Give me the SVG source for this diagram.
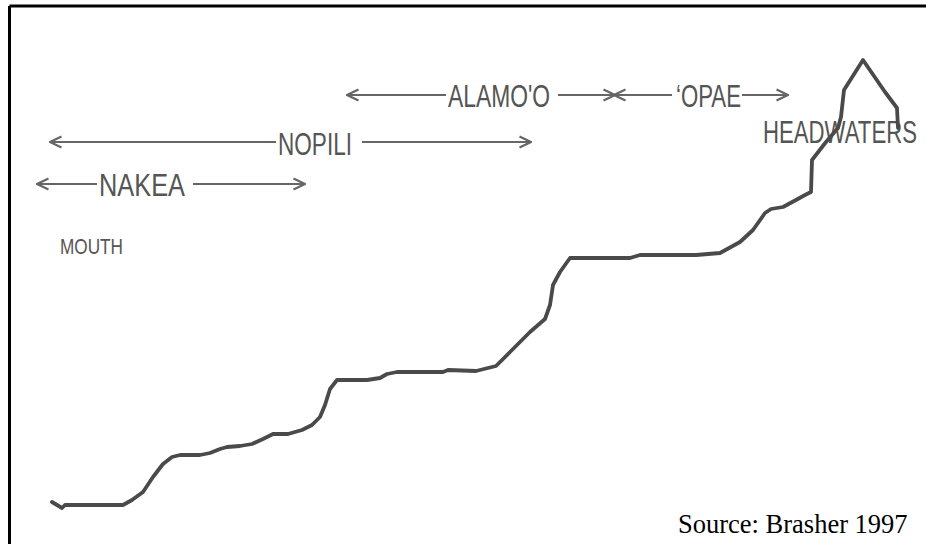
<svg xmlns="http://www.w3.org/2000/svg" width="926" height="544" viewBox="0 0 926 544">
<style>
.lbl{font-family:"Liberation Sans",Arial,sans-serif;fill:#555}
.arr{stroke:#666;stroke-width:2.2;fill:none}
.src{font-family:"Liberation Serif","Times New Roman",serif;fill:#000;font-size:26.5px}
</style>
<defs>
<marker id="ah" viewBox="0 0 14 14" refX="13" refY="7" markerWidth="14" markerHeight="14" markerUnits="userSpaceOnUse" orient="auto-start-reverse">
<path d="M1.5,1.5 L13,7 L1.5,12.5" fill="none" stroke="#666" stroke-width="2.2"/>
</marker>
</defs>
<rect width="926" height="544" fill="#fff"/>
<g id="frame" stroke="#000" stroke-width="3" fill="none">
<line x1="9.5" y1="6" x2="926" y2="6"/>
<line x1="9.5" y1="6" x2="9.5" y2="544"/>
</g>
<g id="connectors">
<line class="arr" x1="347" y1="95" x2="446" y2="95" marker-start="url(#ah)"/>
<line class="arr" x1="558" y1="95" x2="615" y2="95" marker-end="url(#ah)"/>
<line class="arr" x1="614" y1="95" x2="672" y2="95" marker-start="url(#ah)"/>
<line class="arr" x1="742" y1="95" x2="788" y2="95" marker-end="url(#ah)"/>
<line class="arr" x1="50" y1="142" x2="276" y2="142" marker-start="url(#ah)"/>
<line class="arr" x1="362" y1="142" x2="531" y2="142" marker-end="url(#ah)"/>
<line class="arr" x1="37" y1="184" x2="97" y2="184" marker-start="url(#ah)"/>
<line class="arr" x1="193" y1="184" x2="305" y2="184" marker-end="url(#ah)"/>
</g>
<g id="alamoo"><text class="lbl" x="448" y="107" font-size="31" textLength="102" lengthAdjust="spacingAndGlyphs">ALAMO'O</text></g>
<g id="opae"><text class="lbl" x="676" y="107" font-size="31" textLength="65" lengthAdjust="spacingAndGlyphs">‘OPAE</text></g>
<g id="nopili"><text class="lbl" x="278" y="155" font-size="32" textLength="74" lengthAdjust="spacingAndGlyphs">NOPILI</text></g>
<g id="nakea"><text class="lbl" x="99" y="196" font-size="32" textLength="86" lengthAdjust="spacingAndGlyphs">NAKEA</text></g>
<g id="mouth"><text class="lbl" x="60" y="254" font-size="22" fill="#666" textLength="63" lengthAdjust="spacingAndGlyphs">MOUTH</text></g>
<g id="headwaters"><text class="lbl" x="763" y="143" font-size="31" textLength="154" lengthAdjust="spacingAndGlyphs">HEADWATERS</text></g>
<g id="profile">
<polyline fill="none" stroke="#4a4a4a" stroke-width="3.8" stroke-linejoin="round" stroke-linecap="round" points="52,502 62,508 65,505 123,505 132,500 143,492 153,477 163,464 172,457 180,455 200,455 210,453 220,449 227,447 240,446 252,444 263,439 273,434 288,434 302,430 312,425 320,417 325,405 330,389 337,380 367,380 380,378 387,374 397,372 443,372 448,370 476,371 496,366 510,352 530,332 545,319 550,305 553,285 560,272 570,258 630,258 640,255 696,255 720,253 740,242 753,230 765,213 771,209 783,207 796,200 805,195 811,192 812,160 826,142 838,128 841,117 844,90 863,60 885,92 897,108 898,128"/>
</g>
<g id="source"><text class="src" x="678" y="533">Source: Brasher 1997</text></g>
</svg>
